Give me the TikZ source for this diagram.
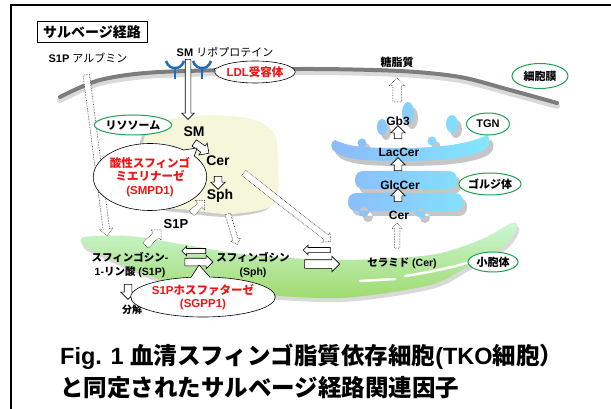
\documentclass[tikz,border=0pt]{standalone}
\usepackage{fontspec}
\setmainfont{Liberation Sans}
\newfontfamily\jp{Noto Sans CJK JP}
\usetikzlibrary{shapes.geometric}
\usetikzlibrary{shapes.arrows}
\usetikzlibrary{shapes.callouts}

\definecolor{membgray}{RGB}{125,125,125}
\definecolor{recblue}{RGB}{30,110,190}
\definecolor{lysofill}{RGB}{246,247,218}
\definecolor{orggreen}{RGB}{30,160,80}
\definecolor{ertop}{RGB}{205,247,215}
\definecolor{erbot}{RGB}{160,218,110}
\definecolor{golgil}{RGB}{140,185,250}
\definecolor{golgir}{RGB}{130,232,255}
\definecolor{enzred}{RGB}{240,20,20}

\newcommand{\ja}[1]{{\jp #1}}

% golgi stack, cisternae and vesicles
\newcommand{\golgipath}{
  (335,140) .. controls (350,148) and (375,148) .. (398,148) .. controls (430,148) and (465,146) .. (487,135)
    .. controls (492,140) and (490,148) .. (480,152) .. controls (460,160) and (430,161) .. (398,161)
    .. controls (370,161) and (345,160) .. (335,152) .. controls (330,148) and (330,142) .. (335,140) -- cycle
  (362,143) circle (4.5) (432,141) circle (4.5)
  [rounded corners=8pt] (355,171) rectangle (457,189) (348,193) rectangle (463,211) [sharp corners]
  (364,212) circle (5) (421,213) circle (5)
  (408,113) ellipse (6 and 11) (382,127) ellipse (5 and 8) (452,124) ellipse (6 and 9)
}

\tikzset{
  lbl/.style={font=\fontsize{12}{14}\selectfont\bfseries, inner sep=0pt, align=center},
  biglbl/.style={font=\fontsize{14}{16}\selectfont\bfseries, inner sep=0pt},
  organelle/.style={ellipse, draw=orggreen, line width=1pt, fill=white, inner sep=0pt,
    font=\fontsize{11}{12}\selectfont\bfseries},
  enzyme/.style={ellipse callout, draw=black, line width=0.6pt, fill=white, inner sep=0pt,
    align=center, text=enzred, font=\fontsize{11.5}{13.5}\selectfont\bfseries},
  hollow/.style={single arrow, draw=black, line width=0.6pt, fill=white, inner xsep=0pt,
    inner ysep=3.5pt, single arrow head extend=3.5pt},
  leak/.style={hollow, densely dotted, line width=0.5pt},
}

\begin{document}
\begin{tikzpicture}[x=1pt, y=-1pt]
    \useasboundingbox (0,0) rectangle (611,409);

    % frame
    \draw[line width=1.6pt] (11,430) -- (11,5) -- (630,5);
    \node[draw, line width=1pt, minimum width=110pt, minimum height=21pt, inner sep=0pt,
      font=\fontsize{14}{14}\selectfont\bfseries] (salvage) at (92,32) {\ja{サルベージ経路}};

    % cell membrane
    \draw[gray!30, line width=6pt, line cap=round, shift={(0,3)}] plot[smooth] coordinates
      {(60,97) (100,80) (160,72) (300,69) (400,71) (460,77) (510,90) (557,103)};
    \draw[membgray, line width=4pt, line cap=round] plot[smooth] coordinates
      {(60,97) (100,80) (160,72) (300,69) (400,71) (460,77) (510,90) (557,103)};

    % receptors
    \foreach \rx in {175,202} {
        \draw[recblue, line width=2.5pt] (\rx,79) -- (\rx,68);
        \draw[recblue, line width=2.5pt] (\rx-9,61) .. controls (\rx-7,67) and (\rx-3,68) .. (\rx,68)
          .. controls (\rx+3,68) and (\rx+7,67) .. (\rx+9,61);
    }

    % lysosome
    \fill[gray!40, shift={(-4,3)}] plot[smooth cycle] coordinates
      {(150,128) (175,118) (215,115) (255,120) (275,135) (278,165) (278,195) (268,208) (230,214) (190,210) (165,205) (148,175) (143,145)};
    \fill[lysofill] plot[smooth cycle] coordinates
      {(150,128) (175,118) (215,115) (255,120) (275,135) (278,165) (278,195) (268,208) (230,214) (190,210) (165,205) (148,175) (143,145)};

    % endoplasmic reticulum
    \fill[gray!30, shift={(2,4)}] plot[smooth cycle] coordinates
      {(84,237) (130,236) (180,244) (250,255) (340,260) (430,255) (480,240) (512,223) (517,228)
       (505,245) (470,265) (430,285) (340,298) (240,293) (180,285) (140,272) (105,256) (84,246)};
    \shade[top color=ertop, bottom color=erbot] plot[smooth cycle] coordinates
      {(84,237) (130,236) (180,244) (250,255) (340,260) (430,255) (480,240) (512,223) (517,228)
       (505,245) (470,265) (430,285) (340,298) (240,293) (180,285) (140,272) (105,256) (84,246)};
    \draw[white, line width=2.5pt, line cap=round] (360,281) -- (395,279);
    \draw[white, line width=2.5pt, line cap=round] (405,276) .. controls (430,272) and (450,268) .. (470,262);

    % golgi
    \fill[gray!45, shift={(4,5)}] \golgipath;
    \shade[left color=golgil, right color=golgir] \golgipath;

    % transport
    \node[hollow, minimum height=60pt, inner ysep=2.5pt, rotate=-90] (smin) at (188,88) {};
    \node[hollow, minimum height=18pt, rotate=-35] (smcer) at (200,147) {};
    \node[hollow, minimum height=13pt, rotate=-90] (cersph) at (218,181) {};
    \node[hollow, minimum height=13pt, rotate=90] (up1) at (398,134) {};
    \node[hollow, minimum height=13pt, rotate=90] (up2) at (398,166) {};
    \node[hollow, minimum height=13pt, rotate=90] (up3) at (398,197) {};
    \node[hollow, minimum height=15pt, rotate=-90] (down) at (128,290) {};
    \node[hollow, minimum height=24pt, inner ysep=2.25pt, single arrow head extend=2.25pt, rotate=180] (back1) at (195,251) {};
    \node[hollow, minimum height=28pt, single arrow head extend=3pt] (fwd1) at (197,262) {};
    \node[hollow, minimum height=27pt, inner ysep=2.25pt, single arrow head extend=2.25pt, rotate=180] (back2) at (318,250) {};
    \node[hollow, minimum height=35pt, inner ysep=4pt] (fwd2) at (320,264) {};

    \node[leak, minimum height=162pt, inner ysep=3pt, rotate=-82.6] (albin) at (96.5,153.5) {};
    \node[leak, minimum height=32pt, inner ysep=2.5pt, single arrow head extend=2.5pt, rotate=-73] (sphout) at (232,228) {};
    \node[leak, minimum height=111pt, inner ysep=3pt, single arrow head extend=3pt, rotate=-38] (sphcer) at (286,206) {};
    \node[leak, minimum height=25pt, inner ysep=2.5pt, single arrow head extend=2.5pt, rotate=90] (cergolgi) at (397,237) {};
    \node[leak, minimum height=24pt, inner ysep=4pt, rotate=90] (glycout) at (397,92) {};
    \node[leak, minimum height=22pt, rotate=45] (s1pout) at (152,239) {};
    \node[leak, minimum height=18pt, inner ysep=3pt, rotate=45] (s1pin) at (197,208) {};

    % names
    \node[lbl, font=\fontsize{11}{13}\selectfont\bfseries] (albumin) at (88,58) {S1P \ja{\mdseries アルブミン}};
    \node[lbl, font=\fontsize{11}{13}\selectfont\bfseries] (lipo) at (225,52) {SM \ja{\mdseries リポプロテイン}};
    \node[lbl, font=\fontsize{11}{13}\selectfont\bfseries] (glyco) at (397,62) {\ja{糖脂質}};
    \node[biglbl] (sm) at (194,132) {SM};
    \node[biglbl] (cer) at (218,161) {Cer};
    \node[biglbl] (sph) at (220,196) {Sph};
    \node[lbl, font=\fontsize{13}{14}\selectfont\bfseries] (s1p) at (176,224) {S1P};
    \node[lbl] (gb3) at (398,121) {Gb3};
    \node[lbl] (laccer) at (399,152) {LacCer};
    \node[lbl] (glccer) at (400,185) {GlcCer};
    \node[lbl] (gcer) at (399,215) {Cer};
    \node[lbl, font=\fontsize{10.5}{14}\selectfont\bfseries] (s1pname) at (130,265) {\ja{スフィンゴシン}-\\1-\ja{リン酸} (S1P)};
    \node[lbl, font=\fontsize{10.5}{14}\selectfont\bfseries] (sphname) at (253,265) {\ja{スフィンゴシン}\\(Sph)};
    \node[lbl, font=\fontsize{10.5}{14}\selectfont\bfseries] (cername) at (402,263) {\ja{セラミド} (Cer)};
    \node[lbl, font=\fontsize{10}{12}\selectfont\bfseries] (decomp) at (132,310) {\ja{分解}};

    % organelles
    \node[organelle, minimum width=56pt, minimum height=25pt] (membrane) at (540,76) {\ja{細胞膜}};
    \node[organelle, minimum width=67pt, minimum height=20pt] (lysosome) at (133,125) {\ja{リソソーム}};
    \node[organelle, minimum width=43pt, minimum height=22pt] (tgn) at (488,124) {TGN};
    \node[organelle, minimum width=60pt, minimum height=22pt] (golgi) at (490,184) {\ja{ゴルジ体}};
    \node[organelle, minimum width=50pt, minimum height=20pt] (er) at (493,262) {\ja{小胞体}};

    % enzymes
    \node[enzyme, minimum width=70pt, minimum height=22pt, callout absolute pointer={(214,69)}] (ldlr) at (255,72) {LDL\ja{受容体}};
    \node[enzyme, minimum width=95pt, minimum height=67pt, callout absolute pointer={(197,148)}] (smpd) at (150,177)
      {\ja{酸性スフィンゴ}\\\ja{ミエリナーゼ}\\(SMPD1)};
    \node[enzyme, minimum width=110pt, minimum height=40pt, callout absolute pointer={(199,265)}] (sgpp) at (203,297)
      {S1P\ja{ホスファターゼ}\\(SGPP1)};

    % caption
    \node[anchor=west, inner sep=0pt, font=\fontsize{23.5}{26}\selectfont\bfseries] (cap1) at (60,357)
      {Fig. 1 \ja{血清スフィンゴ脂質依存細胞}(TKO\ja{細胞）}};
    \node[anchor=west, inner sep=0pt, font=\fontsize{23.5}{26}\selectfont\bfseries] (cap2) at (60,388)
      {\ja{と同定されたサルベージ経路関連因子}};

\end{tikzpicture}
\end{document}
